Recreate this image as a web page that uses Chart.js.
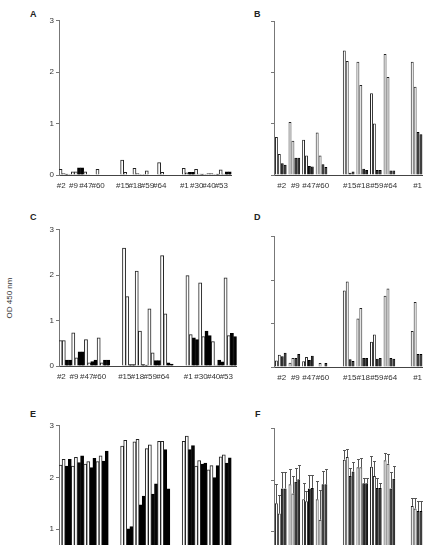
<!DOCTYPE html>
<html>
<head>
<meta charset="utf-8">
<script src="https://cdn.jsdelivr.net/npm/chart.js@4"></script>
<style>
  body { margin: 0; width: 423px; height: 545px; overflow: hidden; position: relative; background: #fff;
         font-family: "Liberation Sans", Arial, sans-serif; }
  canvas { position: absolute; }
  .letter { position: absolute; font-weight: bold; font-size: 9px; color: #222; }
  #ytitle { position: absolute; left: 9px; top: 298px; font-size: 8px; color: #333; white-space: nowrap;
            transform: translate(-50%, -50%) rotate(-90deg); }
</style>
</head>
<body>
<div class="letter" style="left:30px;top:9px">A</div>
<div class="letter" style="left:254px;top:9px">B</div>
<div class="letter" style="left:30px;top:212px">C</div>
<div class="letter" style="left:254px;top:212px">D</div>
<div class="letter" style="left:30px;top:409px">E</div>
<div class="letter" style="left:255px;top:409px">F</div>
<div id="ytitle">OD 450 nm</div>

<canvas id="pA"></canvas>
<canvas id="pB"></canvas>
<canvas id="pC"></canvas>
<canvas id="pD"></canvas>
<canvas id="pE"></canvas>
<canvas id="pF"></canvas>

<script>
// clone labels, 3 groups of 4
const clones = ['#2', '#9', '#47', '#60', '#15', '#18', '#59', '#64', '#1', '#30', '#40', '#53'];
const yTicks = [0, 1, 2, 3];

// A
const aWhite1 = [0.11, 0.06, 0.06, 0.11, 0.29, 0.13, 0.08, 0.24, 0.13, 0.11, 0.03, 0.10];
const aWhite2 = [0.03, 0.06, 0.01, 0, 0.05, 0.03, 0, 0.05, 0.04, 0.02, 0.03, 0.02];
const aBlack1 = [0.02, 0.14, 0, 0, 0, 0.01, 0, 0, 0.05, 0.02, 0.01, 0.06];
const aBlack2 = [0.01, 0.14, 0, 0, 0, 0.01, 0, 0, 0.05, 0.01, 0.02, 0.06];

// B
const bWhite1 = [0.745, 1.04, 0.69, 0.83, 2.44, 2.22, 1.60, 2.37, 2.22, 2.10, 1.90, 2.20];
const bWhite2 = [0.41, 0.67, 0.38, 0.38, 2.23, 1.76, 1.01, 1.92, 1.73, 1.60, 1.20, 1.70];
const bBlack1 = [0.23, 0.34, 0.175, 0.21, 0.045, 0.12, 0.10, 0.09, 0.84, 0.80, 0.30, 0.80];
const bBlack2 = [0.20, 0.34, 0.165, 0.155, 0.07, 0.10, 0.10, 0.09, 0.80, 0.75, 0.25, 0.75];

// C
const cWhite1 = [0.56, 0.73, 0.58, 0.62, 2.60, 2.09, 1.26, 2.43, 1.99, 1.83, 0.54, 1.94];
const cWhite2 = [0.56, 0.18, 0.07, 0.07, 1.53, 0.77, 0.29, 1.15, 0.69, 0.65, 0.02, 0.67];
const cBlack1 = [0.13, 0.31, 0.10, 0.13, 0.03, 0.03, 0.12, 0.07, 0.62, 0.77, 0.13, 0.72];
const cBlack2 = [0.13, 0.31, 0.13, 0.13, 0.03, 0.02, 0.12, 0.04, 0.58, 0.67, 0.09, 0.65];

// D
const dWhite1 = [0.15, 0.10, 0.13, 0.01, 1.76, 1.12, 0.58, 1.64, 0.83, 0.90, 0.50, 0.80];
const dWhite2 = [0.28, 0.21, 0.23, 0.09, 1.97, 1.36, 0.75, 1.81, 1.50, 1.40, 0.80, 1.30];
const dBlack1 = [0.25, 0.21, 0.16, 0, 0.18, 0.21, 0.19, 0.21, 0.30, 0.30, 0.20, 0.30];
const dBlack2 = [0.33, 0.30, 0.26, 0.09, 0.14, 0.21, 0.21, 0.19, 0.30, 0.30, 0.20, 0.30];

// E
const eWhite1 = [2.24, 2.22, 2.26, 2.31, 2.61, 2.69, 2.56, 2.70, 2.70, 2.22, 2.15, 2.40];
const eWhite2 = [2.35, 2.39, 2.31, 2.42, 2.72, 2.74, 2.63, 2.70, 2.80, 2.33, 2.23, 2.44];
const eBlack1 = [2.22, 2.29, 2.19, 2.32, 1.01, 1.47, 1.68, 2.54, 2.54, 2.26, 2.00, 2.28];
const eBlack2 = [2.35, 2.42, 2.37, 2.51, 1.05, 1.64, 1.88, 1.78, 2.62, 2.28, 2.23, 2.38];

// F (with error bars, upper side only)
const fWhite1 = [1.55, 1.92, 1.63, 1.63, 2.40, 2.25, 2.26, 2.39, 1.50, 1.60, 1.50, 1.60];
const fWhite2 = [1.35, 1.74, 1.59, 1.23, 2.45, 2.25, 2.08, 2.32, 1.45, 1.50, 1.40, 1.50];
const fBlack1 = [1.84, 1.97, 1.84, 1.92, 2.08, 1.94, 1.85, 1.84, 1.40, 1.40, 1.30, 1.40];
const fBlack2 = [1.84, 2.02, 1.85, 1.92, 2.17, 1.94, 1.85, 2.03, 1.40, 1.40, 1.30, 1.40];
const fErrWhite1 = [0.37, 0.29, 0.32, 0.36, 0.18, 0.17, 0.22, 0.14, 0.16, 0.20, 0.20, 0.20];
const fErrWhite2 = [0.36, 0.34, 0.20, 0.58, 0.16, 0.18, 0.29, 0.18, 0.20, 0.20, 0.20, 0.20];
const fErrBlack1 = [0.31, 0.27, 0.26, 0.25, 0.15, 0.11, 0.20, 0.31, 0.20, 0.20, 0.20, 0.20];
const fErrBlack2 = [0.31, 0.27, 0.25, 0.29, 0.18, 0.11, 0.09, 0.25, 0.20, 0.20, 0.20, 0.20];

const FONT = '"Liberation Sans", Arial, sans-serif';
const Y_W = 30, PAD_T = 6, X_H = 22;

// puts an empty slot between the 3 groups
function withGaps(arr) {
    return [...arr.slice(0, 4), null, ...arr.slice(4, 8), null, ...arr.slice(8, 12)];
}

const errorBars = {
    id: 'errorBars',
    afterDatasetsDraw(chart, args, opts) {
        if (!opts.errors) return;
        const ctx = chart.ctx;
        const y = chart.scales.y;
        ctx.save();
        ctx.strokeStyle = '#555';
        ctx.lineWidth = 1;
        chart.data.datasets.forEach((ds, i) => {
            const meta = chart.getDatasetMeta(i);
            meta.data.forEach((bar, j) => {
                const e = opts.errors[i][j];
                const v = ds.data[j];
                if (e == null || v == null) return;
                const x = Math.round(bar.x) + 0.5;
                const top = Math.round(y.getPixelForValue(v + e)) + 0.5;
                const w = bar.width / 2;
                ctx.beginPath();
                ctx.moveTo(x, bar.y);
                ctx.lineTo(x, top);
                ctx.moveTo(x - w, top);
                ctx.lineTo(x + w, top);
                ctx.stroke();
            });
        });
        ctx.restore();
    }
};

function makePanel(id, box, series, errors) {
    const canvas = document.getElementById(id);
    const plotW = box.slot * 14;
    const w = Y_W + plotW, h = PAD_T + (box.bottom - box.top) + X_H;
    canvas.width = w; canvas.height = h;
    canvas.style.left = (box.axisX - Y_W) + 'px';
    canvas.style.top = (box.top - PAD_T) + 'px';
    canvas.style.width = w + 'px';
    canvas.style.height = h + 'px';

    const white = { backgroundColor: '#fff', borderColor: '#222', borderWidth: 1 };
    const black = { backgroundColor: '#000', borderColor: '#000', borderWidth: 1 };

    new Chart(canvas.getContext('2d'), {
        type: 'bar',
        data: {
            labels: withGaps(clones).map(l => l || ''),
            datasets: [
                { data: withGaps(series[0]), ...white },
                { data: withGaps(series[1]), ...white },
                { data: withGaps(series[2]), ...black },
                { data: withGaps(series[3]), ...black }
            ]
        },
        options: {
            responsive: false,
            animation: false,
            devicePixelRatio: 1,
            layout: { padding: { top: PAD_T, left: 0, right: 0, bottom: 0 } },
            datasets: { bar: { categoryPercentage: box.catPct, barPercentage: 1 } },
            plugins: {
                legend: { display: false },
                tooltip: { enabled: false },
                errorBars: { errors: errors ? errors.map(withGaps) : null }
            },
            scales: {
                x: {
                    grid: { display: false, drawTicks: false },
                    border: { display: true, color: '#444', width: 1 },
                    ticks: {
                        autoSkip: false, maxRotation: 0, minRotation: 0,
                        font: { size: 8, family: FONT }, color: '#333',
                        padding: 6, labelOffset: box.labelOffset
                    },
                    afterFit: s => { s.height = X_H; }
                },
                y: {
                    min: 0, max: 3,
                    afterBuildTicks: s => { s.ticks = yTicks.map(v => ({ value: v })); },
                    ticks: {
                        font: { size: 8, family: FONT },
                        color: box.showTicks ? '#333' : 'rgba(0,0,0,0)',
                        padding: 2
                    },
                    grid: { display: true, drawOnChartArea: false, drawTicks: true, tickLength: 3, color: '#777' },
                    border: { display: true, color: '#777', width: 1 },
                    afterFit: s => { s.width = Y_W; }
                }
            }
        },
        plugins: [errorBars]
    });
}

// right column: 12 px of bars inside a 14 px slot, so bar edges land on whole pixels
const RIGHT_PCT = 12 / 14;

makePanel('pA', { axisX: 59, top: 20, bottom: 175, slot: 12.8, catPct: 1, showTicks: true, labelOffset: -4 },
    [aWhite1, aWhite2, aBlack1, aBlack2]);
makePanel('pB', { axisX: 274, top: 21, bottom: 175, slot: 14, catPct: RIGHT_PCT, showTicks: false, labelOffset: 1 },
    [bWhite1, bWhite2, bBlack1, bBlack2]);
makePanel('pC', { axisX: 59, top: 229, bottom: 366, slot: 13.15, catPct: 1, showTicks: true, labelOffset: -4 },
    [cWhite1, cWhite2, cBlack1, cBlack2]);
makePanel('pD', { axisX: 274, top: 236, bottom: 367, slot: 14, catPct: RIGHT_PCT, showTicks: false, labelOffset: 1 },
    [dWhite1, dWhite2, dBlack1, dBlack2]);
makePanel('pE', { axisX: 59, top: 425, bottom: 581, slot: 12.8, catPct: 1, showTicks: true, labelOffset: -4 },
    [eWhite1, eWhite2, eBlack1, eBlack2]);
makePanel('pF', { axisX: 274, top: 428, bottom: 583, slot: 14, catPct: RIGHT_PCT, showTicks: false, labelOffset: 1 },
    [fWhite1, fWhite2, fBlack1, fBlack2], [fErrWhite1, fErrWhite2, fErrBlack1, fErrBlack2]);
</script>
</body>
</html>
